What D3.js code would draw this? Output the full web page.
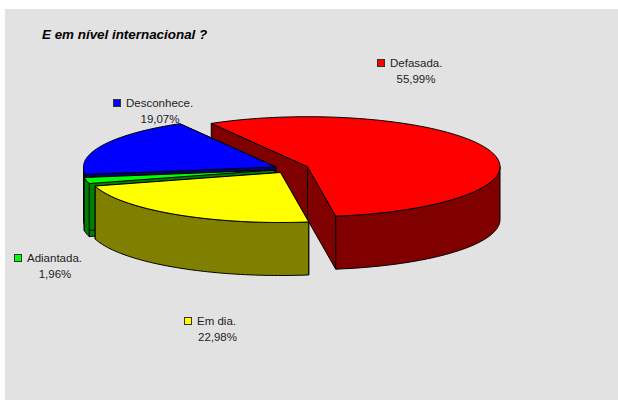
<!DOCTYPE html>
<html><head><meta charset="utf-8">
<script src="https://cdn.jsdelivr.net/npm/d3@7"></script>
<style>html,body{margin:0;padding:0;background:#fff}svg{display:block}
text{font-family:"Liberation Sans",Arial,sans-serif;font-size:11.5px;fill:#222}</style>
</head><body><svg id="c" width="618" height="400"></svg>
<script>
const categories=["Defasada.","Em dia.","Adiantada.","Desconhece."];
const values=[55.99,22.98,1.96,19.07];
const valueLabels=["55,99%","22,98%","1,96%","19,07%"];
const topColors=["#ff0000","#ffff00","#00ff00","#0000ff"];
const sideColors=["#800000","#808000","#008000","#000080"];
const titleText="E em nível internacional ?";

// layout, in pixels
const centers=[[307.5,166.7],[280.5,172.5],[274.5,170],[276,167]];
const keyPos=[[377,59],[184,317],[14,254],[113,99]];
const namePos=[[390,66.5],[197,325],[27,262],[126,107]];
const valuePos=[[416,83],[217.5,341],[55,278],[160,123]];
const RX=192.5,RY=50,DEPTH=53;
const drawOrder=[0,3,2,1];

const svg=d3.select("#c");
svg.append("rect").attr("x",5).attr("y",9).attr("width",613).attr("height",391).attr("fill","#e2e2e2");
svg.append("text").attr("x",42).attr("y",39).attr("font-weight","bold").attr("font-style","italic").style("font-size","13.4px").style("fill","#000").text(titleText);

const pie=d3.pie().sort(null).startAngle(-Math.PI/6).endAngle(2*Math.PI-Math.PI/6);
const arcs=pie(values);
const sx=d3.scaleLinear().domain([-1,1]).range([-RX,RX]);
const sy=d3.scaleLinear().domain([-1,1]).range([RY,-RY]);
const pt=(a,c,d=0)=>[c[0]+sx(Math.sin(a)),c[1]+sy(Math.cos(a))+d];
const arcPts=(a0,a1,c,d=0)=>{
  const n=Math.max(2,Math.ceil(Math.abs(a1-a0)/0.02));
  return d3.range(n+1).map(i=>pt(a0+(a1-a0)*i/n,c,d));
};
const line=d3.line();
const poly=p=>line(p)+"Z";
const draw=(p,fill)=>svg.append("path").attr("d",poly(p)).attr("fill",fill)
  .attr("stroke","#000").attr("stroke-width",1).attr("stroke-linejoin","round");

drawOrder.forEach(i=>{
  const a=arcs[i],c=centers[i];
  const A=pt(a.startAngle,c),B=pt(a.endAngle,c);
  draw([c,A,[A[0],A[1]+DEPTH],[c[0],c[1]+DEPTH]],sideColors[i]);
  draw([c,B,[B[0],B[1]+DEPTH],[c[0],c[1]+DEPTH]],sideColors[i]);
  const lo=Math.max(a.startAngle,Math.PI/2),hi=Math.min(a.endAngle,3*Math.PI/2);
  if(hi>lo){
    draw(arcPts(lo,hi,c).concat(arcPts(hi,lo,c,DEPTH)),sideColors[i]);
  }
  draw([c].concat(arcPts(a.startAngle,a.endAngle,c)),topColors[i]);
});

categories.forEach((name,i)=>{
  svg.append("rect").attr("x",keyPos[i][0]+.5).attr("y",keyPos[i][1]+.5).attr("width",7).attr("height",7)
    .attr("fill",topColors[i]).attr("stroke","#333");
  svg.append("text").attr("x",namePos[i][0]).attr("y",namePos[i][1]).text(name);
  svg.append("text").attr("x",valuePos[i][0]).attr("y",valuePos[i][1]).attr("text-anchor","middle").text(valueLabels[i]);
});
</script></body></html>
